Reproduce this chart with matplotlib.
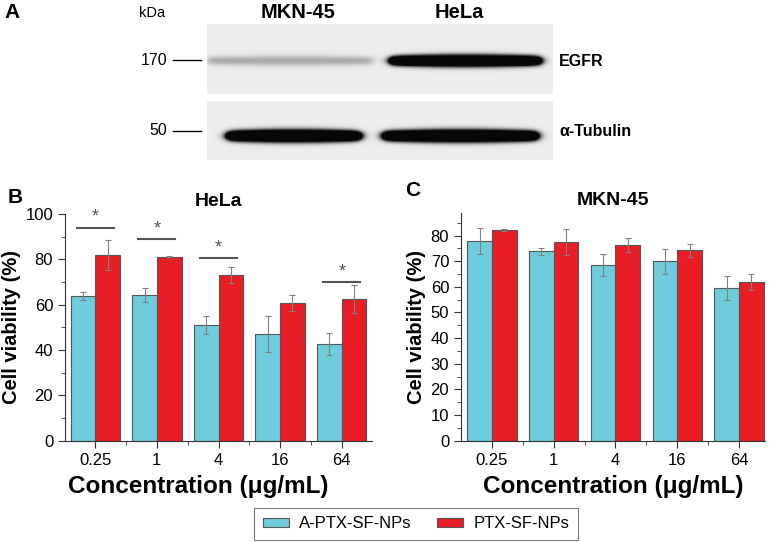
import matplotlib
matplotlib.use('Agg')
import matplotlib.pyplot as plt
import numpy as np
from matplotlib.patches import Patch

plt.rcParams['font.family'] = ['Liberation Sans', 'DejaVu Sans']

W, H = 770, 542

# ---- data ----
conc = ['0.25', '1', '4', '16', '64']

hela_a = [63.8, 64.3, 51.0, 47.2, 42.6]      # A-PTX-SF-NPs
hela_a_err = [1.7, 3.2, 4.0, 8.0, 4.8]
hela_p = [81.9, 81.2, 73.2, 60.7, 62.5]      # PTX-SF-NPs
hela_p_err = [6.6, 0.3, 3.6, 3.7, 6.0]
hela_sig = [0, 1, 2, 4]                      # groups marked with *
hela_sig_y = [94, 88.8, 80.6, 70]

mkn_a = [77.9, 73.9, 68.7, 69.9, 59.6]
mkn_a_err = [4.9, 1.3, 4.3, 5.0, 4.7]
mkn_p = [82.1, 77.5, 76.4, 74.3, 61.8]
mkn_p_err = [0.3, 5.0, 2.7, 2.6, 3.2]

# western blot band strengths (0 = none, 1 = saturated), lanes MKN-45, HeLa
egfr_band = [0.1, 1.0]
tubulin_band = [1.0, 1.0]

cyan = '#6ECCDC'
red = '#E91D25'
edge = '#555555'


def fx(x):
  return x / W


def fy(y):
  return 1 - y / H


fig = plt.figure(figsize=(W / 100, H / 100), dpi=100)


# ---- panel A: blot ----
def blot(ax, strengths, yc, thick, lanes):
  h, w = 60, 346
  xx = np.arange(w)[None, :]
  yy = np.arange(h)[:, None]
  img = np.full((h, w), 0.93)
  dark = np.zeros((h, w))
  for s, (x0, x1) in zip(strengths, lanes):
    prof_x = 0.5 * (np.tanh((xx - x0) / 5) - np.tanh((xx - x1) / 5))
    mid = (x0 + x1) / 2
    t = thick * (1 + 0.25 * (1 - ((xx - mid) / ((x1 - x0) / 2)) ** 2).clip(0))
    prof_y = np.exp(-((yy - yc) / t) ** 2 * 2.5)
    dark = dark + s * 3 * prof_x * prof_y
  img = img - 0.9 * np.clip(dark, 0, 1)
  ax.imshow(img, cmap='gray', vmin=0, vmax=1, aspect='auto', interpolation='bilinear')
  ax.set_axis_off()


ax_up = fig.add_axes([fx(207), fy(94), 346 / W, 70 / H])
blot(ax_up, egfr_band, 31, 5.5, [(0, 165), (183, 333)])
ax_lo = fig.add_axes([fx(207), fy(160), 346 / W, 59 / H])
blot(ax_lo, tubulin_band, 35, 7, [(20, 153), (176, 330)])

fig.text(fx(4), fy(12), 'A', fontsize=15, fontweight='bold', va='center')
fig.text(fx(152), fy(13), 'kDa', fontsize=10.5, ha='center', va='center')
fig.text(fx(298), fy(12), 'MKN-45', fontsize=14.5, fontweight='bold', ha='center', va='center')
fig.text(fx(459), fy(12), 'HeLa', fontsize=14.5, fontweight='bold', ha='center', va='center')
for lab, yv in [('170', 60), ('50', 131)]:
  fig.text(fx(167), fy(yv), lab, fontsize=11.5, ha='right', va='center')
  fig.add_artist(plt.Line2D([fx(173), fx(201)], [fy(yv), fy(yv)], color='black', lw=1))
fig.text(fx(559), fy(61), 'EGFR', fontsize=11.5, fontweight='bold', va='center')
fig.text(fx(559), fy(132), 'α-Tubulin', fontsize=11.5, fontweight='bold', va='center')


# ---- bar panels ----
def bars(ax, a, a_err, p, p_err):
  x = np.arange(len(conc))
  wbar = 0.4
  ekw = dict(ecolor='#808080', elinewidth=0.8, capsize=2, capthick=0.8)
  ax.bar(x - wbar / 2, a, wbar, color=cyan, edgecolor=edge, lw=0.8, yerr=a_err, error_kw=ekw, zorder=2)
  ax.bar(x + wbar / 2, p, wbar, color=red, edgecolor=edge, lw=0.8, yerr=p_err, error_kw=ekw, zorder=2)
  ax.set_xticks(x)
  ax.set_xticklabels(conc)
  ax.set_xticks(x[:-1] + 0.5, minor=True)
  for s in ['top', 'right']:
    ax.spines[s].set_visible(False)
  for s in ['left', 'bottom']:
    ax.spines[s].set_color('#333333')
  ax.tick_params(which='both', colors='#333333', labelcolor='black', labelsize=12)
  ax.tick_params(which='major', length=5)
  ax.tick_params(which='minor', length=3)
  ax.set_xlabel('Concentration (μg/mL)', fontsize=17.5, fontweight='bold', labelpad=4)
  ax.set_ylabel('Cell viability (%)', fontsize=14.5, fontweight='bold', labelpad=3)


axB = fig.add_axes([fx(65), fy(440.7), 307 / W, 226.7 / H])
bars(axB, hela_a, hela_a_err, hela_p, hela_p_err)
axB.set_xlim(-0.49, 4.49)
axB.set_ylim(0, 100)
axB.set_yticks(np.arange(0, 101, 20))
axB.set_yticks(np.arange(10, 100, 20), minor=True)
axB.set_title('HeLa', fontsize=14, fontweight='bold', pad=6)
axB.xaxis.set_label_coords((198 - 65) / 307, -0.15)
for g, yv in zip(hela_sig, hela_sig_y):
  axB.plot([g - 0.3, g + 0.3], [yv, yv], color='#555555', lw=1.5, zorder=3)
  axB.text(g, yv + 0.8, '*', ha='center', va='bottom', fontsize=13, color='#555555')
fig.text(fx(8), fy(197), 'B', fontsize=15, fontweight='bold', va='center')

axC = fig.add_axes([fx(461), fy(440.7), 304 / W, 227.7 / H])
bars(axC, mkn_a, mkn_a_err, mkn_p, mkn_p_err)
axC.set_xlim(-0.5, 4.42)
axC.set_ylim(0, 88.8)
axC.set_yticks(np.arange(0, 81, 10))
axC.set_yticks(np.arange(5, 90, 10), minor=True)
axC.set_title('MKN-45', fontsize=14, fontweight='bold', pad=6)
axC.xaxis.set_label_coords(0.5, -0.15)
fig.text(fx(405), fy(190), 'C', fontsize=15, fontweight='bold', va='center')

handles = [Patch(facecolor=cyan, edgecolor=edge, lw=0.8, label='A-PTX-SF-NPs'),
           Patch(facecolor=red, edgecolor=edge, lw=0.8, label='PTX-SF-NPs')]
leg = fig.legend(handles=handles, loc='center', bbox_to_anchor=(fx(416), fy(524)), ncol=2,
                 fontsize=12, frameon=True, fancybox=False, handlelength=1.6, handleheight=0.45,
                 columnspacing=1.5, handletextpad=0.6, borderpad=0.5)
leg.get_frame().set_edgecolor('#555555')
leg.get_frame().set_linewidth(0.8)

fig.savefig('out.png', dpi=100)
